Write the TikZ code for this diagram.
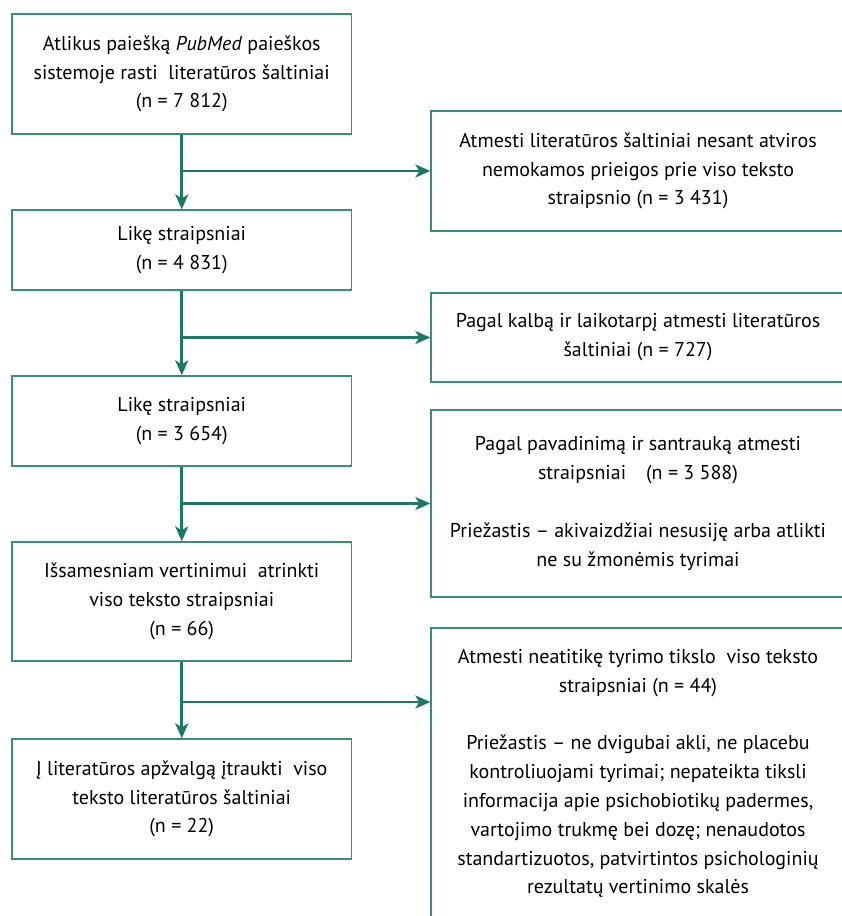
\documentclass[tikz,border=0pt]{standalone}
\usepackage{fontspec}
\setmainfont{PT Sans}
\usetikzlibrary{arrows.meta}
\definecolor{arrowc}{HTML}{1B7768}
\definecolor{boxc}{HTML}{3A8C7E}
\begin{document}
\begin{tikzpicture}[x=1pt,y=-1pt,
  box/.style={draw=boxc, line width=1.3pt, align=center, inner sep=0pt, font=\fontsize{20}{28.8}\selectfont},
  lbox/.style={box, minimum width=339.5pt},
  rbox/.style={box, minimum width=414pt},
  arr/.style={draw=arrowc, line width=2.6pt, -{Stealth[length=15pt,width=13pt,inset=4pt]}}]
\useasboundingbox (0,0) rectangle (842,916);
% left column
\node[lbox, minimum height=120pt] (b1) at (181.75,74) {Atlikus paiešką \textit{PubMed} paieškos\\sistemoje rasti~ literatūros šaltiniai\\(n = 7 812)};
\node[lbox, minimum height=80pt] (b2) at (181.75,250) {Likę straipsniai\\(n = 4 831)};
\node[lbox, minimum height=90pt] (b3) at (181.75,421) {Likę straipsniai\\(n = 3 654)};
\node[lbox, minimum height=119pt] (b4) at (181.75,601.5) {Išsamesniam vertinimui~ atrinkti\\viso teksto straipsniai\\(n = 66)};
\node[lbox, minimum height=120pt] (b5) at (181.75,799) {Į literatūros apžvalgą įtraukti~ viso\\teksto literatūros šaltiniai\\(n = 22)};
% right column
\node[rbox, minimum height=120pt] (r1) at (638,171) {Atmesti literatūros šaltiniai nesant atviros\\nemokamos prieigos prie viso teksto\\straipsnio (n = 3 431)};
\node[rbox, minimum height=89pt] (r2) at (638,337.5) {Pagal kalbą ir laikotarpį atmesti literatūros\\šaltiniai (n = 727)};
\node[rbox, minimum height=187pt] (r3) at (638,503.5) {Pagal pavadinimą ir santrauką atmesti\\straipsniai\quad(n = 3 588)\\[28.8pt]Priežastis – akivaizdžiai nesusiję arba atlikti\\ne su žmonėmis tyrimai};
\node[rbox, minimum height=291pt] (r4) at (638,773.5) {Atmesti neatitikę tyrimo tikslo~ viso teksto\\straipsniai (n = 44)\\[28.8pt]Priežastis – ne dvigubai akli, ne placebu\\kontroliuojami tyrimai; nepateikta tiksli\\informacija apie psichobiotikų padermes,\\vartojimo trukmę bei dozę; nenaudotos\\standartizuotos, patvirtintos psichologinių\\rezultatų vertinimo skalės};
% connectors
\draw[arr] (b1) -- (b2);
\draw[arr] (b2) -- (b3);
\draw[arr] (b3) -- (b4);
\draw[arr] (b4) -- (b5);
\coordinate (j1) at (b1.south |- r1.west);
\coordinate (j2) at (b2.south |- r2.west);
\coordinate (j3) at (b3.south |- r3.west);
\coordinate (j4) at (181.75,702);
\coordinate (e4) at (j4 -| r4.west);
\draw[arr] (j1) -- (r1.west);
\draw[arr] (j2) -- (r2.west);
\draw[arr] (j3) -- (r3.west);
\draw[arr] (j4) -- (e4);
\end{tikzpicture}
\end{document}
